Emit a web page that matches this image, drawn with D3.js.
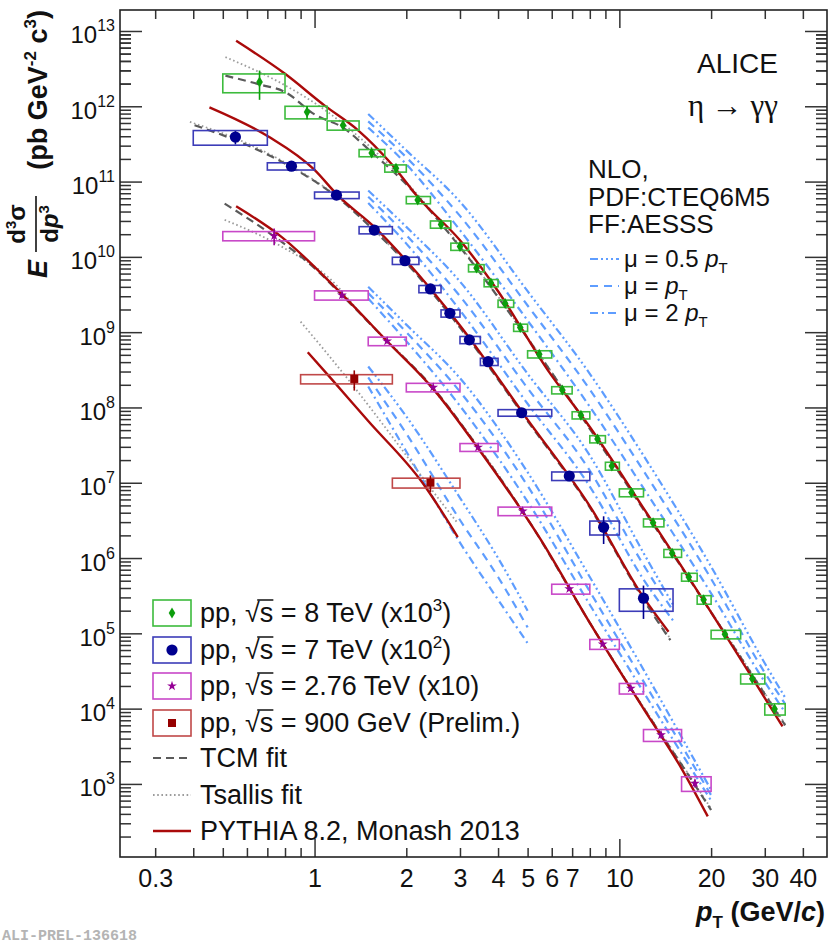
<!DOCTYPE html>
<html>
<head>
<meta charset="utf-8">
<script src="https://cdn.jsdelivr.net/npm/d3@7"></script>
<style>
html,body{margin:0;padding:0;background:#fff;}
svg{display:block;font-family:"Liberation Sans",Arial,Helvetica,sans-serif;}
</style>
</head>
<body>
<svg id="chart" width="828" height="946"></svg>
<script>
// ---------------- measured spectra (E d3sigma/dp3, pb GeV^-2 c^3) ----------------
// pp, sqrt(s) = 8 TeV, scaled x10^3
const pt8   = [0.66, 0.945, 1.24, 1.54, 1.85, 2.18, 2.6, 3.0, 3.4, 3.79, 4.22, 4.73, 5.46, 6.5, 7.48, 8.48, 9.45, 10.96, 12.9, 14.9, 16.9, 18.9, 22.2, 27.3, 32.3];
const lo8   = [0.5, 0.8, 1.1, 1.4, 1.7, 2.0, 2.4, 2.8, 3.2, 3.6, 4.0, 4.5, 5.0, 6, 7, 8, 9, 10, 12, 14, 16, 18, 20, 25, 30];
const hi8   = [0.8, 1.1, 1.4, 1.7, 2.0, 2.4, 2.8, 3.2, 3.6, 4.0, 4.5, 5.0, 6, 7, 8, 9, 10, 12, 14, 16, 18, 20, 25, 30, 35];
const val8  = [2.1e12, 8.4e11, 5.6e11, 2.4e11, 1.5e11, 5.7e10, 2.7e10, 1.37e10, 7.1e9, 4.5e9, 2.4e9, 1.15e9, 5.1e8, 1.7e8, 7.9e7, 3.8e7, 1.67e7, 7.4e6, 2.95e6, 1.16e6, 5.6e5, 2.8e5, 9.7e4, 2.5e4, 9.9e3];
const sys8  = [0.28, 0.19, 0.14, 0.11, 0.11, 0.11, 0.11, 0.11, 0.11, 0.11, 0.11, 0.11, 0.11, 0.11, 0.11, 0.11, 0.12, 0.12, 0.12, 0.12, 0.12, 0.13, 0.13, 0.15, 0.17];
const stat8 = [0.42, 0.2, 0.08, 0.06, 0.05, 0.04, 0.04, 0.04, 0.04, 0.04, 0.04, 0.04, 0.04, 0.04, 0.04, 0.04, 0.04, 0.04, 0.05, 0.05, 0.06, 0.06, 0.06, 0.08, 0.1];

// pp, sqrt(s) = 7 TeV, scaled x10^2
const pt7   = [0.55, 0.84, 1.18, 1.57, 1.98, 2.4, 2.78, 3.22, 3.71, 4.78, 6.85, 8.88, 12.0];
const lo7   = [0.4, 0.7, 1.0, 1.4, 1.8, 2.2, 2.6, 3.0, 3.5, 4, 6, 8, 10];
const hi7   = [0.7, 1.0, 1.4, 1.8, 2.2, 2.6, 3.0, 3.5, 4.0, 6, 8, 10, 15];
const val7  = [3.9e11, 1.6e11, 6.6e10, 2.27e10, 8.9e9, 3.75e9, 1.78e9, 7.9e8, 4.05e8, 8.5e7, 1.23e7, 2.56e6, 2.93e5];
const sys7  = [0.22, 0.11, 0.10, 0.11, 0.11, 0.11, 0.11, 0.11, 0.11, 0.10, 0.13, 0.21, 0.33];
const stat7 = [0.2, 0.05, 0.04, 0.04, 0.04, 0.04, 0.04, 0.05, 0.05, 0.06, 0.1, 0.4, 0.47];

// pp, sqrt(s) = 2.76 TeV, scaled x10
const pt276   = [0.737, 1.23, 1.73, 2.45, 3.44, 4.82, 6.85, 8.82, 10.9, 13.7, 17.7];
const lo276   = [0.5, 1.0, 1.5, 2.0, 3, 4, 6, 8, 10, 12, 16];
const hi276   = [1.0, 1.5, 2.0, 3.0, 4, 6, 8, 10, 12, 16, 20];
const val276  = [1.9e10, 3.1e9, 7.6e8, 1.85e8, 2.96e7, 4.2e6, 3.9e5, 7.2e4, 1.86e4, 4.47e3, 1.02e3];
const sys276  = [0.14, 0.14, 0.13, 0.13, 0.12, 0.13, 0.15, 0.15, 0.16, 0.18, 0.22];
const stat276 = [0.25, 0.1, 0.06, 0.05, 0.05, 0.05, 0.06, 0.07, 0.08, 0.1, 0.12];

// pp, sqrt(s) = 900 GeV (preliminary)
const pt09   = [1.35, 2.4];
const lo09   = [0.9, 1.8];
const hi09   = [1.8, 3.0];
const val09  = [2.39e8, 1.0e7];
const sys09  = [0.14, 0.15];
const stat09 = [0.3, 0.25];

// ---------------- PYTHIA 8.2 (Monash 2013) ----------------
const pythia8   = [[0.553,7.4e12],[0.8,2.7e12],[1.08,1.02e12],[1.39,4.8e11],[1.78,1.75e11],[2.2,6.0e10],[3.0,1.66e10],[4.0,3.5e9],[5.8,3.2e8],[8,5.5e7],[12,4.6e6],[20,1.9e5],[34.3,5.8e3]];
const pythia7   = [[0.452,9.7e11],[0.703,4.0e11],[1.0,1.43e11],[1.19,6.6e10],[1.57,2.5e10],[2.0,8.9e9],[3.0,1.23e9],[5.0,6.9e7],[8,4.9e6],[12,3.0e5],[14.5,1.05e5]];
const pythia276 = [[0.553,4.7e10],[0.777,1.86e10],[1.22,3.3e9],[1.74,7.4e8],[2.47,1.7e8],[3.5,2.6e7],[5.53,1.74e6],[8,1.38e5],[12,1.0e4],[16,1.6e3],[19.5,370]];
const pythia09  = [[0.95,5.4e8],[1.13,2.45e8],[1.5,6.6e7],[2.26,1.0e7],[2.95,1.9e6]];

// ---------------- TCM fits ----------------
const tcm8   = [[0.51,2.55e12],[0.66,1.95e12],[0.8,1.55e12],[1.0,7.8e11],[1.24,5.2e11],[1.54,2.45e11],[2.0,9.2e10],[3.0,1.35e10],[5,8.3e8],[8,5.2e7],[12,4.4e6],[20,1.9e5],[35,6.0e3]];
const tcm7   = [[0.404,5.6e11],[0.55,3.55e11],[0.84,1.55e11],[1.18,6.3e10],[1.57,2.24e10],[2.0,8.3e9],[3.0,1.15e9],[5,6.6e7],[8,4.7e6],[12,2.8e5],[14.7,8.1e4]];
const tcm276 = [[0.507,5.1e10],[0.738,1.86e10],[1.0,7.1e9],[1.23,3.1e9],[1.73,7.6e8],[2.45,1.82e8],[3.44,2.95e7],[5,3.3e6],[8,1.38e5],[12,1.02e4],[16,1.8e3],[20,450]];

// ---------------- Tsallis fits ----------------
const tsallis8   = [[0.51,4.5e12],[0.8,1.9e12],[1.1,8.5e11],[1.4,3.9e11],[2.0,9.8e10],[3.0,1.4e10],[5,8.4e8],[8,5.3e7],[12,4.5e6],[20,1.95e5],[35,6.2e3]];
const tsallis7   = [[0.39,6.2e11],[0.55,3.75e11],[0.84,1.6e11],[1.18,6.4e10],[1.57,2.25e10],[2.0,8.4e9],[3.0,1.16e9],[5,6.7e7],[8,4.8e6],[12,2.9e5],[14.7,8.5e4]];
const tsallis276 = [[0.507,3.1e10],[0.777,1.38e10],[1.13,5.0e9],[1.5,1.36e9],[2.0,4.3e8],[3.0,6.3e7],[5,3.3e6],[8,1.4e5],[12,1.05e4],[16,1.85e3],[20,470]];
const tsallis09  = [[0.9,1.38e9],[1.35,1.86e8],[2.0,2.3e7],[2.4,8.5e6],[2.95,2.9e6]];

// ---------------- NLO pQCD (CTEQ6M5 / AESSS) for three scales ----------------
const nloHalf8 = [[1.5,7.9e11],[2,2.6e11],[3,5.4e10],[5,3.5e9],[8,2.8e8],[12,2.3e7],[20,7.7e5],[30,4.0e4],[35,1.4e4]];
const nloOne8  = [[1.5,6.3e11],[2,2.1e11],[3,3.5e10],[5,2.26e9],[8,1.73e8],[12,1.44e7],[20,5.3e5],[30,3.0e4],[35,1.15e4]];
const nloTwo8  = [[1.5,5.2e11],[2,1.7e11],[3,2.26e10],[5,1.43e9],[8,1.02e8],[12,8.5e6],[20,3.4e5],[30,2.26e4],[35,8.9e3]];
const nloHalf7 = [[1.5,7.6e10],[2,2.5e10],[3,4.7e9],[5,2.8e8],[8,2.3e7],[12,1.17e6],[15,2.4e5]];
const nloOne7  = [[1.5,6.3e10],[2,1.95e10],[3,3.0e9],[5,1.8e8],[8,1.45e7],[12,8.1e5],[15,2.0e5]];
const nloTwo7  = [[1.5,5.2e10],[2,1.5e10],[3,1.95e9],[5,1.12e8],[8,8.9e6],[12,5.2e5],[15,1.48e5]];
const nloHalf276 = [[1.5,4.0e9],[2,1.26e9],[3,2.45e8],[5,1.38e7],[8,5.6e5],[12,3.3e4],[20,830]];
const nloOne276  = [[1.5,3.3e9],[2,1.0e9],[3,1.62e8],[5,9.1e6],[8,3.6e5],[12,2.3e4],[20,710]];
const nloTwo276  = [[1.5,2.8e9],[2,7.6e8],[3,1.05e8],[5,5.6e6],[8,2.4e5],[12,1.66e4],[20,600]];
const nloHalf09 = [[1.5,3.5e8],[2,7.6e7],[3,6.3e6],[4,1.0e6],[5,2.0e5]];
const nloOne09  = [[1.5,2.5e8],[2,4.5e7],[3,3.2e6],[4,5.6e5],[5,1.2e5]];
const nloTwo09  = [[1.5,1.9e8],[2,2.6e7],[3,1.6e6],[4,2.8e5],[5,7.4e4]];

// ---------------- axis ticks ----------------
const xMajorTicks = [1, 10];
const xMinorTicks = [0.3,0.4,0.5,0.6,0.7,0.8,0.9,2,3,4,5,6,7,8,9,20,30,40];
const xTickLabels = [0.3, 1, 2, 3, 4, 5, 6, 7, 10, 20, 30, 40];
const yExponents  = [3,4,5,6,7,8,9,10,11,12,13];
const yMinorMult  = [2,3,4,5,6,7,8,9];

// ---------------- layout ----------------
const L = 120, R = 827, T = 10, B = 857;
const svg = d3.select('#chart');
const x = d3.scaleLog().domain([0.23, 48]).range([L, R]);
const y = d3.scaleLog().domain([1.07e2, 1.9e13]).range([B, T]);

svg.append('defs').append('clipPath').attr('id','frame')
  .append('rect').attr('x',L).attr('y',T).attr('width',R-L).attr('height',B-T);
const plot = svg.append('g').attr('clip-path','url(#frame)');

const line = d3.line().x(d => x(d[0])).y(d => y(d[1])).curve(d3.curveMonotoneX);

// NLO bands
const nloColor = '#5e9dff';
const dashHalf = '8,3,2,3,2,3,2,3';
const dashOne  = '8,6';
const dashTwo  = '8,4,2,4';
[[nloHalf8,nloOne8,nloTwo8],[nloHalf7,nloOne7,nloTwo7],[nloHalf276,nloOne276,nloTwo276],[nloHalf09,nloOne09,nloTwo09]]
  .forEach(set => {
    [[set[0],dashHalf],[set[1],dashOne],[set[2],dashTwo]].forEach(([c,da]) => {
      plot.append('path').attr('d', line(c)).attr('fill','none')
        .attr('stroke', nloColor).attr('stroke-width', 2.2).attr('stroke-dasharray', da);
    });
  });

// Tsallis fits
[tsallis8, tsallis7, tsallis276, tsallis09].forEach(c => {
  plot.append('path').attr('d', line(c)).attr('fill','none')
    .attr('stroke','#9c9c9c').attr('stroke-width',1.8).attr('stroke-dasharray','1.6,2.6');
});
// TCM fits
[tcm8, tcm7, tcm276].forEach(c => {
  plot.append('path').attr('d', line(c)).attr('fill','none')
    .attr('stroke','#5a5a5a').attr('stroke-width',2.2).attr('stroke-dasharray','8,5');
});
// PYTHIA
[pythia8, pythia7, pythia276, pythia09].forEach(c => {
  plot.append('path').attr('d', line(c)).attr('fill','none')
    .attr('stroke','#aa0a0a').attr('stroke-width',2.4);
});

// markers
function drawMarker(g, type, cx, cy, col) {
  if (type === 'diamond') {
    g.append('path').attr('d', `M${cx},${cy-5.5}L${cx+3.3},${cy}L${cx},${cy+5.5}L${cx-3.3},${cy}Z`).attr('fill', col);
  } else if (type === 'circle') {
    g.append('circle').attr('cx', cx).attr('cy', cy).attr('r', 5.6).attr('fill', col);
  } else if (type === 'star') {
    g.append('path').attr('d', d3.symbol().type(d3.symbolStar).size(30)())
      .attr('transform', `translate(${cx},${cy})`).attr('fill', col);
  } else {
    g.append('rect').attr('x', cx-4).attr('y', cy-4).attr('width', 8).attr('height', 8).attr('fill', col);
  }
}

const datasets = [
  {pt:pt8,   lo:lo8,   hi:hi8,   val:val8,   sys:sys8,   stat:stat8,   type:'diamond', mcol:'#0c9e0c', bcol:'#3dbb3d'},
  {pt:pt7,   lo:lo7,   hi:hi7,   val:val7,   sys:sys7,   stat:stat7,   type:'circle',  mcol:'#00008f', bcol:'#3c3cb8'},
  {pt:pt276, lo:lo276, hi:hi276, val:val276, sys:sys276, stat:stat276, type:'star',    mcol:'#950095', bcol:'#c848c8'},
  {pt:pt09,  lo:lo09,  hi:hi09,  val:val09,  sys:sys09,  stat:stat09,  type:'square',  mcol:'#960000', bcol:'#c04848'}
];

datasets.forEach(ds => {
  const g = plot.append('g');
  ds.pt.forEach((p, i) => {
    const v = ds.val[i];
    g.append('rect')
      .attr('x', x(ds.lo[i])).attr('width', x(ds.hi[i]) - x(ds.lo[i]))
      .attr('y', y(v*(1+ds.sys[i]))).attr('height', y(v*(1-ds.sys[i])) - y(v*(1+ds.sys[i])))
      .attr('fill','none').attr('stroke', ds.bcol).attr('stroke-width', 1.6);
    g.append('line').attr('x1', x(p)).attr('x2', x(p))
      .attr('y1', y(v*(1+ds.stat[i]))).attr('y2', y(v*(1-ds.stat[i])))
      .attr('stroke', ds.mcol).attr('stroke-width', 1.6);
  });
  ds.pt.forEach((p, i) => drawMarker(g, ds.type, x(p), y(ds.val[i]), ds.mcol));
});

// ---------------- frame and axes ----------------
const tickCol = '#333';
function styleAxis(g) {
  g.select('.domain').remove();
  g.selectAll('.tick line').attr('stroke', tickCol).attr('stroke-width', 1.5);
}
const yMinorTicks = [];
yExponents.forEach(e => yMinorMult.forEach(m => { const v = m * Math.pow(10, e - 1); if (v > 1.07e2) yMinorTicks.push(v); }));
yMinorTicks.push(...yMinorMult.map(m => m * 1e12).filter(v => v < 1.9e13));
const yMajorTicks = yExponents.map(e => Math.pow(10, e));

// bottom
svg.append('g').attr('transform', `translate(0,${B})`)
  .call(d3.axisBottom(x).tickValues(xMajorTicks).tickSize(-18).tickFormat('')).call(styleAxis);
svg.append('g').attr('transform', `translate(0,${B})`)
  .call(d3.axisBottom(x).tickValues(xMinorTicks).tickSize(-9).tickFormat('')).call(styleAxis);
svg.append('g').attr('transform', `translate(0,${B})`)
  .call(d3.axisBottom(x).tickValues(xTickLabels).tickSize(0).tickPadding(12).tickFormat(d => String(d)))
  .call(g => { g.select('.domain').remove(); g.selectAll('.tick line').remove(); })
  .call(g => g.selectAll('text').attr('font-size', 25).attr('fill', '#111')
    .attr('font-family', '"Liberation Sans",Arial,sans-serif'));
// top
svg.append('g').attr('transform', `translate(0,${T})`)
  .call(d3.axisTop(x).tickValues(xMajorTicks).tickSize(-18).tickFormat('')).call(styleAxis);
svg.append('g').attr('transform', `translate(0,${T})`)
  .call(d3.axisTop(x).tickValues(xMinorTicks).tickSize(-9).tickFormat('')).call(styleAxis);
// left
svg.append('g').attr('transform', `translate(${L},0)`)
  .call(d3.axisLeft(y).tickValues(yMajorTicks).tickSize(-22).tickFormat('')).call(styleAxis)
  .call(g => {
    g.selectAll('.tick text').remove();
    g.selectAll('.tick').each(function(d) {
      const t = d3.select(this).append('text').attr('x', -5).attr('y', 12)
        .attr('text-anchor', 'end').attr('fill', '#111').attr('font-size', 24)
        .attr('font-family', '"Liberation Sans",Arial,sans-serif');
      t.append('tspan').text('10');
      t.append('tspan').attr('dy', -12).attr('font-size', 16).text(String(Math.round(Math.log10(d))));
    });
  });
svg.append('g').attr('transform', `translate(${L},0)`)
  .call(d3.axisLeft(y).tickValues(yMinorTicks).tickSize(-11).tickFormat('')).call(styleAxis);
// right
svg.append('g').attr('transform', `translate(${R},0)`)
  .call(d3.axisRight(y).tickValues(yMajorTicks).tickSize(-22).tickFormat('')).call(styleAxis);
svg.append('g').attr('transform', `translate(${R},0)`)
  .call(d3.axisRight(y).tickValues(yMinorTicks).tickSize(-11).tickFormat('')).call(styleAxis);

svg.append('rect').attr('x', L).attr('y', T).attr('width', R-L).attr('height', B-T)
  .attr('fill','none').attr('stroke','#222').attr('stroke-width',1.6);

// ---------------- axis titles ----------------
const xt = svg.append('text').attr('x', 825).attr('y', 921).attr('text-anchor','end')
  .attr('font-size', 27).attr('font-weight','bold').attr('fill','#111');
xt.append('tspan').attr('font-style','italic').text('p');
xt.append('tspan').attr('font-size', 17).attr('dy', 7).text('T');
xt.append('tspan').attr('dy', -7).text(' (GeV/');
xt.append('tspan').attr('font-style','italic').text('c');
xt.append('tspan').text(')');

const yt = svg.append('g').attr('transform', 'translate(47,280) rotate(-90)')
  .attr('font-weight','bold').attr('fill','#111');
yt.append('text').attr('x', 2).attr('y', 0).attr('font-size', 27).attr('font-style','italic').text('E');
const num = yt.append('text').attr('x', 56).attr('y', -22).attr('text-anchor','middle').attr('font-size', 24);
num.append('tspan').text('d');
num.append('tspan').attr('dy', -9).attr('font-size', 15).text('3');
num.append('tspan').attr('dy', 9).text('σ');
yt.append('line').attr('x1', 28).attr('x2', 84).attr('y1', -11).attr('y2', -11)
  .attr('stroke', '#111').attr('stroke-width', 1.6);
const den = yt.append('text').attr('x', 56).attr('y', 11).attr('text-anchor','middle').attr('font-size', 24);
den.append('tspan').text('d');
den.append('tspan').attr('font-style','italic').text('p');
den.append('tspan').attr('dy', -9).attr('font-size', 15).text('3');
const unit = yt.append('text').attr('x', 270).attr('y', 0).attr('text-anchor','end').attr('font-size', 27);
unit.append('tspan').text('(pb GeV');
unit.append('tspan').attr('dy', -11).attr('font-size', 17).text('-2');
unit.append('tspan').attr('dy', 11).text('  c');
unit.append('tspan').attr('dy', -11).attr('font-size', 17).text('3');
unit.append('tspan').attr('dy', 11).text(')');

// ---------------- labels ----------------
svg.append('text').attr('x', 778).attr('y', 73).attr('text-anchor','end')
  .attr('font-size', 28).attr('fill','#111').text('ALICE');
svg.append('text').attr('x', 778).attr('y', 116).attr('text-anchor','end')
  .attr('font-size', 31).attr('fill','#111').attr('font-family','"Liberation Serif","DejaVu Serif",serif')
  .text('η → γγ');
const nloLines = ['NLO,', 'PDF:CTEQ6M5', 'FF:AESSS'];
const nloBase = [178, 206, 233];
nloLines.forEach((s, i) => svg.append('text').attr('x', 588).attr('y', nloBase[i])
  .attr('font-size', 26).attr('fill','#111').text(s));

const scaleRows = [
  {dash: dashHalf, cy: 259, pre: 'μ = 0.5 '},
  {dash: dashOne,  cy: 286, pre: 'μ = '},
  {dash: dashTwo,  cy: 313, pre: 'μ = 2 '}
];
scaleRows.forEach(r => {
  svg.append('line').attr('x1', 590).attr('x2', 619).attr('y1', r.cy).attr('y2', r.cy)
    .attr('stroke', nloColor).attr('stroke-width', 2.2).attr('stroke-dasharray', r.dash);
  const t = svg.append('text').attr('x', 624).attr('y', r.cy + 8).attr('font-size', 24).attr('fill','#111');
  t.append('tspan').text(r.pre);
  t.append('tspan').attr('font-style','italic').text('p');
  t.append('tspan').attr('font-size', 15).attr('dy', 6).text('T');
});

// ---------------- legend ----------------
const legRows = [613, 650, 686, 723, 758, 795, 831];
const legSets = [
  {ds: datasets[0], energy: '8 TeV (x10', sup: '3', tail: ')'},
  {ds: datasets[1], energy: '7 TeV (x10', sup: '2', tail: ')'},
  {ds: datasets[2], energy: '2.76 TeV (x10)', sup: null, tail: ''},
  {ds: datasets[3], energy: '900 GeV (Prelim.)', sup: null, tail: ''}
];
const leg = svg.append('g');
legSets.forEach((e, i) => {
  const cy = legRows[i];
  leg.append('rect').attr('x', 153).attr('y', cy - 13).attr('width', 38).attr('height', 26)
    .attr('fill','none').attr('stroke', e.ds.bcol).attr('stroke-width', 1.6);
  drawMarker(leg, e.ds.type, 172, cy, e.ds.mcol);
  const t = leg.append('text').attr('x', 200).attr('y', cy + 9).attr('font-size', 27).attr('fill','#111');
  t.append('tspan').text('pp, √');
  t.append('tspan').text('s');
  t.append('tspan').text(' = ' + e.energy);
  if (e.sup) {
    t.append('tspan').attr('dy', -11).attr('font-size', 17).text(e.sup);
    t.append('tspan').attr('dy', 11).text(e.tail);
  }
  // vinculum of the square root sign, measured from the rendered glyphs
  const node = t.node();
  const rs = node.getStartPositionOfChar(4).x, re = node.getEndPositionOfChar(4).x;
  const xs = rs + 0.55 * (re - rs);
  const xe = node.getEndPositionOfChar(5).x;
  leg.append('line').attr('x1', xs + 4).attr('x2', xe).attr('y1', cy - 13).attr('y2', cy - 13)
    .attr('stroke', '#111').attr('stroke-width', 1.5);
});
// fit / model entries
leg.append('line').attr('x1', 153).attr('x2', 191).attr('y1', legRows[4]).attr('y2', legRows[4])
  .attr('stroke','#5a5a5a').attr('stroke-width',2.2).attr('stroke-dasharray','8,5');
leg.append('line').attr('x1', 153).attr('x2', 191).attr('y1', legRows[5]).attr('y2', legRows[5])
  .attr('stroke','#9c9c9c').attr('stroke-width',1.8).attr('stroke-dasharray','1.6,2.6');
leg.append('line').attr('x1', 153).attr('x2', 191).attr('y1', legRows[6]).attr('y2', legRows[6])
  .attr('stroke','#aa0a0a').attr('stroke-width',2.4);
['TCM fit', 'Tsallis fit', 'PYTHIA 8.2, Monash 2013'].forEach((s, k) => {
  leg.append('text').attr('x', 200).attr('y', legRows[4 + k] + 9).attr('font-size', 27).attr('fill','#111').text(s);
});

svg.append('text').attr('x', 2).attr('y', 940).attr('font-size', 15).attr('font-weight','bold')
  .attr('font-family','"Liberation Mono","DejaVu Sans Mono",monospace').attr('fill','#b4b4b4')
  .text('ALI-PREL-136618');
</script>
</body>
</html>
